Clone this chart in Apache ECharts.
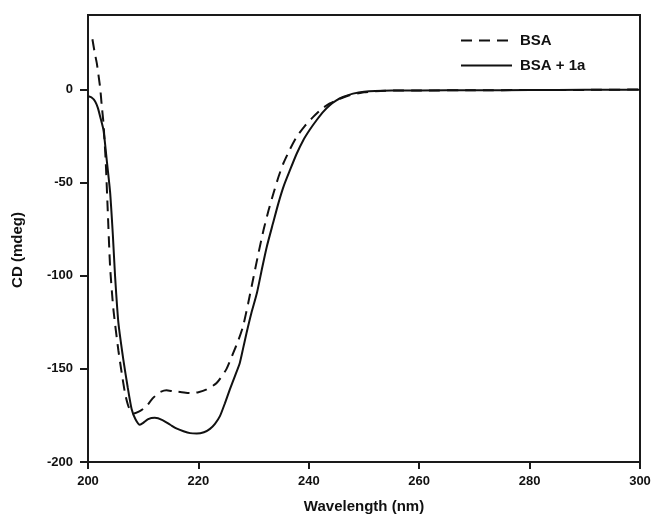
<!DOCTYPE html>
<html>
<head>
<meta charset="utf-8">
<script src="https://cdn.jsdelivr.net/npm/echarts@6/dist/echarts.min.js"></script>
<style>html,body{margin:0;padding:0;background:#fff}#c{width:654px;height:525px}</style>
</head>
<body>
<div id="c"></div>
<script>
const seriesNames = ['BSA', 'BSA + 1a'];
const xTicks = [200, 220, 240, 260, 280, 300];
const yTicks = [-200, -150, -100, -50, 0];
const bsaX = [200.8,201.2,201.6,202.2,202.5,202.8,203.2,203.55,204.0,204.6,205.5,206.1,206.7,207.2,207.6,208.3,209.2,210.0,210.6,211.8,213.0,214.2,215.4,217.0,218.5,220.0,221.5,223.3,225.1,226.3,227.2,228.1,229.0,229.9,230.8,231.8,232.7,233.6,234.5,235.4,236.6,237.8,239.3,240.8,242.3,243.8,245.6,247.5,250,253,256,260,270,280,290,300];
const bsaY = [27,20,14,1,-9,-18,-38,-63,-95,-118,-140,-152,-163,-169,-172,-174,-173,-171.5,-170,-165.6,-162.5,-161.5,-162,-162.5,-163,-162.5,-161,-157.6,-150,-141.5,-135,-127,-115,-102,-89,-75.4,-65,-55.7,-47,-39.6,-32,-25.4,-19.5,-14.7,-10.5,-7.5,-5,-3,-1.5,-0.8,-0.5,-0.5,-0.4,-0.3,-0.2,0];
const bsa1aX = [200.05,200.6,201.3,201.8,202.2,202.8,203.4,204.0,204.5,204.9,205.5,206.4,207.2,207.9,208.6,209.4,210.0,210.9,212.1,213.5,214.9,216.0,217.3,218.5,219.7,221.0,222.1,223.0,223.9,224.8,225.7,226.6,227.5,228.1,228.7,229.6,230.6,231.5,232.4,233.5,234.5,235.5,236.6,237.8,239.0,240.2,241.4,242.6,243.8,245.0,246.2,248,250,255,260,270,280,290,300];
const bsa1aY = [-3.6,-4.2,-6.4,-10,-14.5,-21.7,-38,-55,-78,-100,-125,-145,-160,-171.5,-177,-180,-179,-177,-176.3,-177.5,-180,-182,-183.5,-184.5,-184.7,-184,-182.2,-179.5,-175.4,-168.5,-161,-154,-146.8,-139,-131,-120,-109.3,-96.5,-84.3,-72,-61,-51.5,-43.2,-34.5,-27.2,-21.5,-16.5,-12,-8.4,-5.8,-4,-2.2,-1.2,-0.6,-0.5,-0.4,-0.3,-0.2,-0.1];

const pairs = (xs, ys) => xs.map((x, i) => [x, ys[i]]);
const font = '"Liberation Sans", Arial, sans-serif';
const chart = echarts.init(document.getElementById('c'), null, {renderer: 'canvas'});
chart.setOption({
  animation: false,
  backgroundColor: '#fff',
  grid: {left: 88, right: 14, top: 15, bottom: 63, show: true, borderColor: '#1a1a1a', borderWidth: 2, containLabel: false},
  legend: {
    orient: 'vertical', left: 455, top: 28, itemWidth: 51, itemHeight: 14, itemGap: 10,
    data: seriesNames,
    itemStyle: {color: 'rgba(0,0,0,0)', borderColor: 'rgba(0,0,0,0)', borderWidth: 0},
    textStyle: {fontFamily: font, fontWeight: 'bold', fontSize: 15, color: '#111', padding: [0, 0, 0, 3]}
  },
  xAxis: {
    type: 'value', min: 200, max: 300, interval: 20,
    name: 'Wavelength (nm)', nameLocation: 'middle', nameGap: 37,
    nameTextStyle: {fontFamily: font, fontWeight: 'bold', fontSize: 15, color: '#111'},
    axisLine: {show: true, onZero: false, lineStyle: {color: '#1a1a1a', width: 2}},
    axisTick: {show: true, inside: false, length: 7, lineStyle: {color: '#1a1a1a', width: 2}},
    axisLabel: {fontFamily: font, fontWeight: 'bold', fontSize: 13, color: '#111', margin: 13,
      formatter: v => xTicks.includes(v) ? String(v) : ''},
    splitLine: {show: false}
  },
  yAxis: {
    type: 'value', min: -200, max: 40, interval: 50,
    axisLine: {show: true, onZero: false, lineStyle: {color: '#1a1a1a', width: 2}},
    axisTick: {show: true, inside: false, length: 8, lineStyle: {color: '#1a1a1a', width: 2}},
    axisLabel: {fontFamily: font, fontWeight: 'bold', fontSize: 13, color: '#111', margin: 15,
      showMaxLabel: false, formatter: v => yTicks.includes(v) ? String(v) : ''},
    splitLine: {show: false}
  },
  graphic: [{
    type: 'text', x: 18, y: 250, rotation: Math.PI / 2,
    style: {text: 'CD (mdeg)', fontFamily: font, fontWeight: 'bold', fontSize: 15, fill: '#111', align: 'center', verticalAlign: 'middle'}
  }],
  series: [
    {name: seriesNames[0], type: 'line', data: pairs(bsaX, bsaY), showSymbol: false, symbol: 'none', smooth: 0.2,
      lineStyle: {color: '#111', width: 2, type: [11, 7]}, itemStyle: {color: '#111'}},
    {name: seriesNames[1], type: 'line', data: pairs(bsa1aX, bsa1aY), showSymbol: false, symbol: 'none', smooth: 0.2,
      lineStyle: {color: '#111', width: 2, type: 'solid'}, itemStyle: {color: '#111'}}
  ]
});
</script>
</body>
</html>
